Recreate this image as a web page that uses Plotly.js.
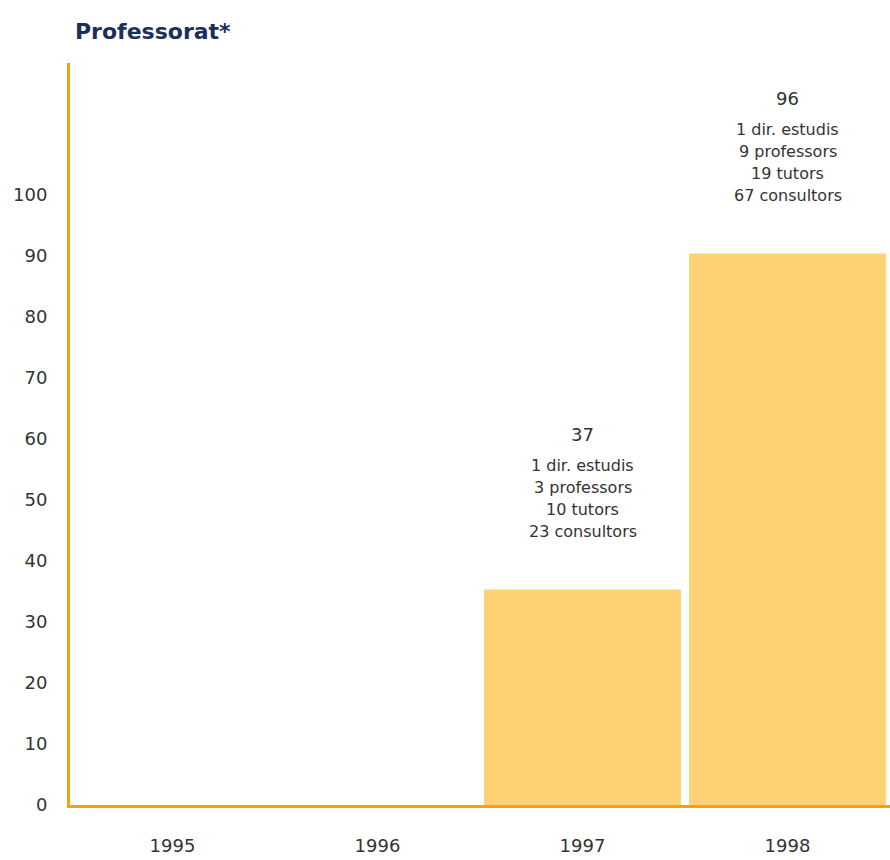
<!DOCTYPE html>
<html>
<head>
<meta charset="utf-8">
<script src="https://cdn.plot.ly/plotly-3.0.1.min.js"></script>
<style>html,body{margin:0;padding:0;background:#fff;}#chart{width:890px;height:860px;}</style>
</head>
<body>
<div id="chart"></div>
<script>
// Data
const years = ['1995', '1996', '1997', '1998'];
const barHeights = [0, 0, 35.3, 90.3];          // drawn bar heights
const totals = ['', '', '37', '96'];            // printed totals
const breakdown = [
  [],
  [],
  ['1 dir. estudis', '3 professors', '10 tutors', '23 consultors'],
  ['1 dir. estudis', '9 professors', '19 tutors', '67 consultors']
];
const yTicks = [0, 10, 20, 30, 40, 50, 60, 70, 80, 90, 100];

const FONT = 'DejaVu Sans, sans-serif';
const TXT = '#333333';

const annotations = [];
years.forEach((yr, i) => {
  if (!totals[i]) return;
  annotations.push({
    x: i, y: barHeights[i], xref: 'x', yref: 'y',
    text: totals[i], showarrow: false, yanchor: 'middle', yshift: 155,
    font: {family: FONT, size: 18, color: TXT}
  });
  const lines = breakdown[i];
  lines.forEach((ln, j) => {
    annotations.push({
      x: i, y: barHeights[i], xref: 'x', yref: 'y',
      text: ln, showarrow: false, yanchor: 'middle',
      yshift: 58 + (lines.length - 1 - j) * 22,
      font: {family: FONT, size: 16, color: TXT}
    });
  });
});

annotations.push({
  xref: 'paper', yref: 'paper', x: 0.004, y: 1, xanchor: 'left', yanchor: 'bottom',
  yshift: 17, text: '<b>Professorat*</b>', showarrow: false,
  font: {family: FONT, size: 22, color: '#1c2f5c'}
});

const trace = {
  type: 'bar', x: years, y: barHeights,
  marker: {color: '#fcd272', line: {width: 0}},
  hoverinfo: 'skip'
};

const layout = {
  width: 890, height: 860,
  margin: {l: 70, r: 0, t: 63, b: 55},
  paper_bgcolor: '#ffffff', plot_bgcolor: '#ffffff',
  showlegend: false,
  bargap: 0.04,
  xaxis: {
    type: 'category', range: [-0.5, 3.5],
    showline: true, linecolor: '#f2a20a', linewidth: 3,
    showgrid: false, zeroline: false, ticks: '',
    tickfont: {family: FONT, size: 18, color: TXT},
    ticklabelstandoff: 22
  },
  yaxis: {
    range: [0, 121.5],
    showline: true, linecolor: '#f2a20a', linewidth: 3,
    showgrid: false, zeroline: false, ticks: '',
    tickvals: yTicks, ticktext: yTicks.map(String),
    tickfont: {family: FONT, size: 18, color: TXT},
    ticklabelstandoff: 16
  },
  annotations: annotations
};

Plotly.newPlot('chart', [trace], layout, {displayModeBar: false, staticPlot: true});
</script>
</body>
</html>
